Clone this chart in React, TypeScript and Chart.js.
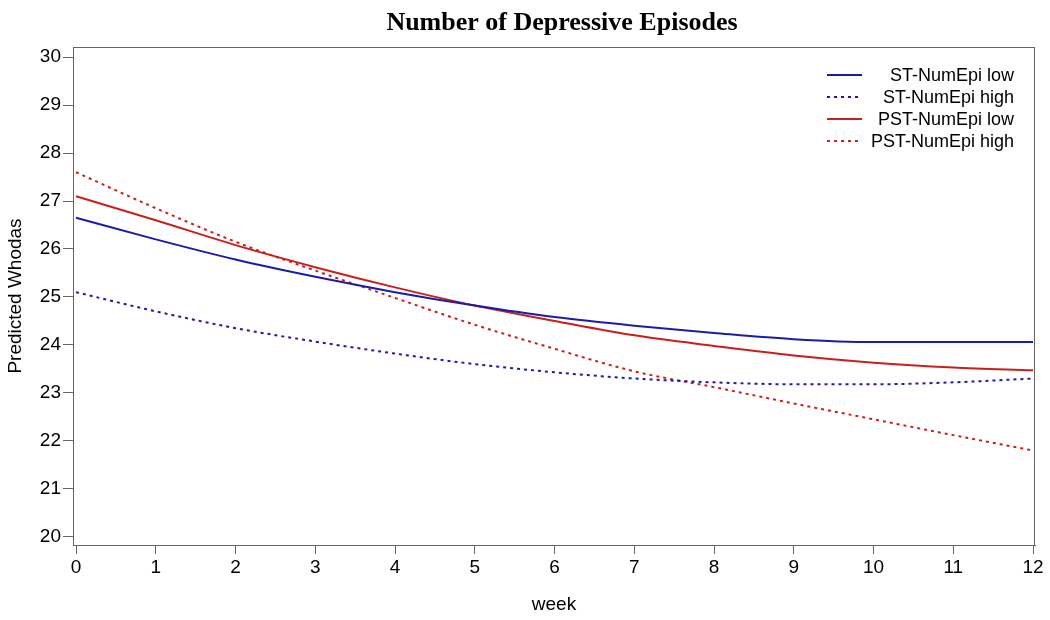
import React, { useEffect, useRef } from "react";
import { Chart, registerables } from "chart.js";

Chart.register(...registerables);

const weeks = [0, 1, 2, 3, 4, 5, 6, 7, 8, 9, 10, 11, 12];
const stLow = [26.65, 26.2, 25.78, 25.42, 25.1, 24.82, 24.58, 24.4, 24.25, 24.12, 24.06, 24.06, 24.06];
const stHigh = [25.1, 24.7, 24.35, 24.07, 23.82, 23.6, 23.43, 23.3, 23.22, 23.18, 23.18, 23.22, 23.3];
const pstLow = [27.1, 26.6, 26.08, 25.62, 25.2, 24.82, 24.5, 24.2, 23.98, 23.78, 23.63, 23.53, 23.47];
const pstHigh = [27.6, 26.85, 26.15, 25.55, 24.98, 24.42, 23.92, 23.45, 23.12, 22.78, 22.45, 22.12, 21.8];
const xTicks = [0, 1, 2, 3, 4, 5, 6, 7, 8, 9, 10, 11, 12];
const yTicks = [20, 21, 22, 23, 24, 25, 26, 27, 28, 29, 30];
const seriesLabels = ["ST-NumEpi low", "ST-NumEpi high", "PST-NumEpi low", "PST-NumEpi high"];
const chartTitle = "Number of Depressive Episodes";

const BLUE = "#1c1ca8";
const RED = "#c8201c";
const SANS = "'Liberation Sans', Arial, sans-serif";

export default function App() {
  const ref = useRef<HTMLCanvasElement | null>(null);
  useEffect(() => {
    if (!ref.current) return;
    const pts = (arr: number[]) => weeks.map((w, i) => ({ x: w, y: arr[i] }));
    const framePlugin = {
      id: "frame",
      afterDraw(chart: any) {
        const { ctx, chartArea: a } = chart;
        ctx.save();
        ctx.strokeStyle = "#666";
        ctx.lineWidth = 1;
        ctx.strokeRect(a.left + 0.5, a.top + 0.5, a.right - a.left - 1, a.bottom - a.top);
        // title
        ctx.fillStyle = "#000";
        ctx.font = "bold 26px 'Liberation Serif', 'Times New Roman', serif";
        ctx.textAlign = "center";
        ctx.textBaseline = "middle";
        ctx.fillText(chartTitle, 562, 23);
        // legend
        ctx.font = "18px " + SANS;
        ctx.textAlign = "right";
        const rows = [75, 97, 119, 141];
        chart.data.datasets.forEach((ds: any, i: number) => {
          const y = rows[i];
          ctx.beginPath();
          ctx.strokeStyle = ds.borderColor;
          ctx.lineWidth = 2;
          ctx.setLineDash(ds.borderDash || []);
          ctx.moveTo(827, y);
          ctx.lineTo(862, y);
          ctx.stroke();
          ctx.setLineDash([]);
          ctx.fillStyle = "#000";
          ctx.fillText(ds.label, 1014, y + 1);
        });
        ctx.restore();
      },
    };
    const chart = new Chart(ref.current, {
      type: "line",
      data: {
        datasets: [
          { label: seriesLabels[0], data: pts(stLow), borderColor: BLUE, borderWidth: 2, pointRadius: 0, cubicInterpolationMode: "monotone" },
          { label: seriesLabels[1], data: pts(stHigh), borderColor: BLUE, borderWidth: 2, borderDash: [3, 4], pointRadius: 0, cubicInterpolationMode: "monotone" },
          { label: seriesLabels[2], data: pts(pstLow), borderColor: RED, borderWidth: 2, pointRadius: 0, cubicInterpolationMode: "monotone" },
          { label: seriesLabels[3], data: pts(pstHigh), borderColor: RED, borderWidth: 2, borderDash: [3, 4], pointRadius: 0, cubicInterpolationMode: "monotone" },
        ] as any,
      },
      options: {
        animation: false,
        responsive: false,
        maintainAspectRatio: false,
        layout: { padding: { top: 47, right: 15, left: 0, bottom: 0 } },
        plugins: { legend: { display: false }, title: { display: false }, tooltip: { enabled: false } },
        scales: {
          x: {
            type: "linear",
            min: -0.038,
            max: 12.025,
            afterBuildTicks: (s: any) => { s.ticks = xTicks.map((v) => ({ value: v })); },
            afterFit: (s: any) => { s.height = 75; },
            grid: { display: true, drawOnChartArea: false, drawTicks: true, tickLength: 9, color: "#666" },
            border: { display: true, color: "#666" },
            ticks: { color: "#000", font: { size: 19, family: SANS }, padding: 2, maxRotation: 0 },
            title: { display: true, text: "week", color: "#000", font: { size: 19, family: SANS }, padding: { top: 3 } },
          },
          y: {
            type: "linear",
            min: 19.83,
            max: 30.21,
            afterBuildTicks: (s: any) => { s.ticks = yTicks.map((v) => ({ value: v })); },
            afterFit: (s: any) => { s.width = 73; },
            grid: { display: true, drawOnChartArea: false, drawTicks: true, tickLength: 10, color: "#666" },
            border: { display: true, color: "#666" },
            ticks: { color: "#000", font: { size: 19, family: SANS }, padding: 2 },
            title: { display: true, text: "Predicted Whodas", color: "#000", font: { size: 19, family: SANS }, padding: { top: 4, bottom: 0 } },
          },
        },
      } as any,
      plugins: [framePlugin],
    });
    return () => chart.destroy();
  }, []);
  return (
    <div style={{ position: "fixed", left: 0, top: 0, width: 1050, height: 620, background: "#fff" }}>
      <canvas ref={ref} width={1050} height={620} />
    </div>
  );
}
